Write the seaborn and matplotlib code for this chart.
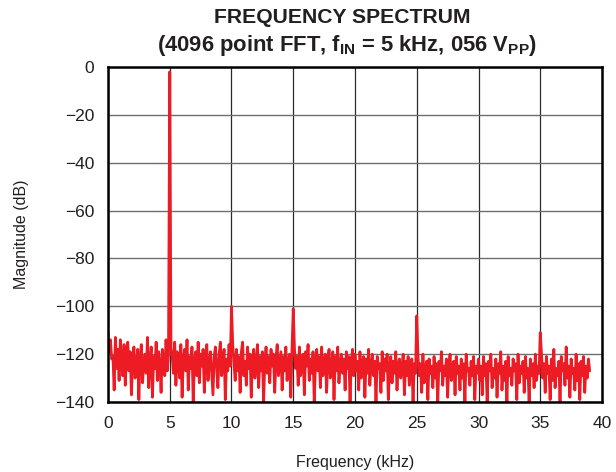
import numpy as np
import pandas as pd
import seaborn as sns
import matplotlib.pyplot as plt

# FFT spectrum, 0.1 kHz bins from 0 to 39 kHz
noise_0_5 = [-111, -119, -114, -122, -121, -135, -113, -126, -118, -131,
             -114, -124, -129, -116, -133, -120, -115, -127, -119, -137,
             -122, -117, -130, -125, -118, -139, -121, -116, -132, -124,
             -120, -128, -113, -134, -123, -117, -138, -121, -126, -115,
             -131, -119, -124, -136, -118, -122, -129, -114, -127, -120]
peak_5 = [-2]
noise_5_10 = [-117, -121, -128, -115, -133, -119, -124, -130, -116, -138,
              -122, -118, -127, -114, -135, -121, -126, -117, -140, -123,
              -119, -129, -115, -132, -120, -125, -118, -136, -122, -116,
              -131, -124, -119, -128, -137, -121, -117, -126, -134, -120,
              -115, -129, -123, -118, -139, -122, -127, -116, -125]
peak_10 = [-100]
noise_10_15 = [-116, -124, -131, -118, -127, -121, -136, -119, -115, -129,
               -123, -133, -117, -126, -120, -138, -122, -118, -130, -124,
               -116, -134, -121, -127, -119, -140, -123, -117, -128, -121,
               -132, -118, -125, -120, -136, -122, -116, -129, -124, -119,
               -135, -121, -127, -117, -131, -123, -120, -138, -118]
peak_15 = [-101]
noise_15_20 = [-118, -126, -121, -133, -117, -129, -123, -120, -137, -119,
               -125, -116, -131, -122, -128, -119, -140, -124, -118, -127,
               -121, -134, -117, -129, -123, -120, -136, -122, -118, -130,
               -125, -119, -139, -121, -127, -117, -132, -124, -120, -128,
               -122, -135, -119, -126, -121, -140, -123, -118, -129]
noise_20_25 = [-120, -127, -123, -135, -119, -130, -124, -121, -138, -122,
               -128, -118, -133, -125, -120, -129, -123, -140, -121, -126,
               -124, -136, -119, -131, -122, -127, -120, -139, -125, -121,
               -132, -123, -128, -119, -135, -124, -122, -130, -126, -120,
               -137, -123, -129, -121, -133, -125, -122, -140, -124, -128]
peak_25 = [-104]
noise_25_30 = [-121, -129, -124, -136, -120, -132, -126, -123, -139, -122,
               -128, -125, -134, -121, -130, -124, -140, -123, -127, -119,
               -133, -125, -129, -122, -138, -124, -120, -131, -126, -123,
               -137, -121, -128, -125, -135, -122, -130, -124, -140, -120,
               -127, -126, -133, -123, -129, -121, -139, -125, -128]
noise_30_35 = [-122, -131, -125, -137, -121, -129, -124, -140, -123, -127,
               -120, -134, -126, -130, -122, -138, -124, -128, -119, -135,
               -125, -131, -123, -140, -121, -129, -126, -133, -122, -127,
               -124, -139, -120, -132, -125, -128, -123, -136, -121, -130,
               -126, -140, -122, -129, -124, -134, -120, -131, -125, -128]
peak_35 = [-111]
noise_35_39 = [-120, -130, -124, -136, -121, -128, -125, -139, -122, -131,
               -118, -134, -126, -129, -123, -140, -121, -127, -124, -133,
               -117, -130, -125, -138, -122, -128, -126, -135, -120, -131,
               -124, -139, -123, -129, -121, -136, -125, -130, -122, -127]

magnitude = (noise_0_5 + peak_5 + noise_5_10 + peak_10 + noise_10_15 + peak_15
             + noise_15_20 + noise_20_25 + peak_25 + noise_25_30 + noise_30_35
             + peak_35 + noise_35_39)
freq_khz = np.arange(len(magnitude)) * 0.1

df = pd.DataFrame({'freq': freq_khz, 'mag': magnitude})

sns.set_theme(style='white')
plt.rcParams['font.family'] = ['Liberation Sans', 'DejaVu Sans']
plt.rcParams['mathtext.default'] = 'regular'
plt.rcParams['text.color'] = '#231f20'

fig = plt.figure(figsize=(6.16, 4.72), dpi=100)
ax = fig.add_axes([0.1753, 0.1483, 0.802, 0.7097])

sns.lineplot(data=df, x='freq', y='mag', ax=ax, color='#ed1c24', linewidth=2.0)

ax.set_xlim(0, 40)
ax.set_ylim(-140, 0)
ax.set_xticks(range(0, 41, 5))
ax.set_yticks(range(-140, 1, 20))
ax.set_yticklabels([f'\u2212{abs(v)}' if v else '0' for v in range(-140, 1, 20)])
ax.xaxis.grid(True, color='#2a2a2a', linewidth=0.9)
ax.yaxis.grid(True, color='#6e6e6e', linewidth=1.0)
ax.set_axisbelow(True)
for s in ax.spines.values():
    s.set_color('black')
    s.set_linewidth(1.8)
ax.tick_params(length=0, labelsize=12.5, pad=10, colors='#231f20')

ax.set_xlabel('Frequency (kHz)', fontsize=11.5, labelpad=17, color='#231f20')
ax.set_ylabel('Magnitude (dB)', fontsize=11.5, labelpad=19, color='#231f20')

fig.text(0.555, 0.962, 'FREQUENCY SPECTRUM', ha='center', va='center',
         fontsize=15.2, fontweight='bold')
fig.text(0.563, 0.903, r'(4096 point FFT, $f_{IN}$ = 5 kHz, 056 $V_{PP}$)',
         ha='center', va='center', fontsize=15.8, fontweight='bold')

fig.savefig('out.png', dpi=100)
